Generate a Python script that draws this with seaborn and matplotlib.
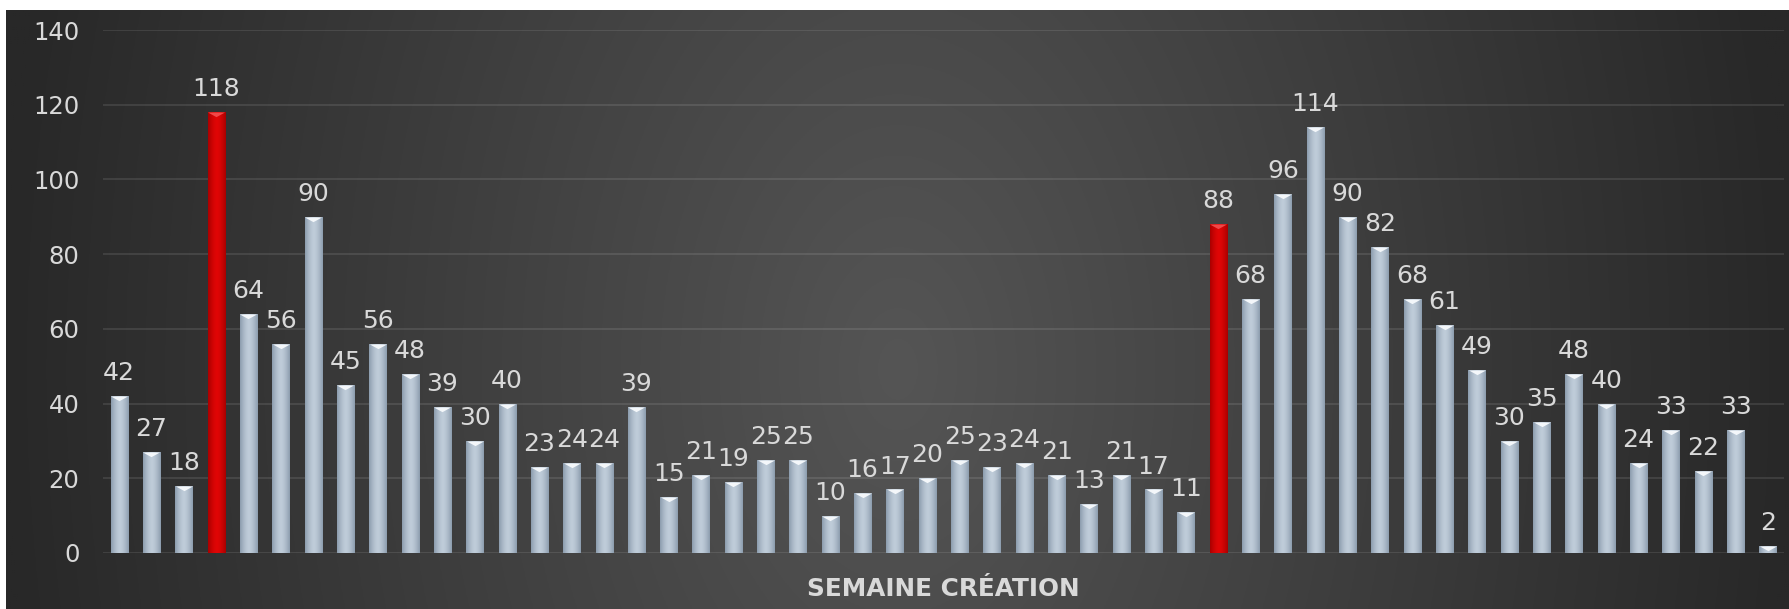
import numpy as np
import pandas as pd
import matplotlib
matplotlib.use("Agg")
import matplotlib.pyplot as plt
import seaborn as sns
from matplotlib.path import Path

# ---- data ----
weeks = [f"S{i + 1}" for i in range(52)]
values = [42, 27, 18, 118, 64, 56, 90, 45, 56, 48, 39, 30, 40, 23, 24, 24, 39,
          15, 21, 19, 25, 25, 10, 16, 17, 20, 25, 23, 24, 21, 13, 21, 17, 11,
          88, 68, 96, 114, 90, 82, 68, 61, 49, 30, 35, 48, 40, 24, 33, 22, 33, 2]
highlighted = ["S4", "S35"]
x_title = "SEMAINE CRÉATION"
y_ticks = [0, 20, 40, 60, 80, 100, 120, 140]

df = pd.DataFrame({"week": weeks, "value": values})
df["kind"] = np.where(df["week"].isin(highlighted), "red", "normal")

sns.set_theme(style="white")
plt.rcParams["font.family"] = ["DejaVu Sans"]

W, H = 1790, 609
fig = plt.figure(figsize=(W / 100, H / 100), dpi=100, facecolor="white")

# ---- background radial gradient ----
bg = fig.add_axes([6 / W, 0, 1 - 6 / W, (H - 10) / H], zorder=-5)
ny, nx = 300, 900
yy, xx = np.mgrid[0:1:ny * 1j, 0:1:nx * 1j]
d = np.sqrt(((xx - 0.5) / 0.5) ** 2 + ((yy - 0.6) / 2.3) ** 2)
d = np.clip(d, 0, 1)
c = (0x55 - d * (0x55 - 0x28)) / 255.0
bg.imshow(np.dstack([c, c, c]), aspect="auto", extent=[0, 1, 0, 1], origin="upper")
bg.set_axis_off()

# ---- main axes ----
ax = fig.add_axes([103 / W, 1 - 553 / H, (1784 - 103) / W, (553 - 30) / H])
ax.patch.set_alpha(0)

palette = {"normal": "#a9b8c8", "red": "#d00000"}
sns.barplot(data=df, x="week", y="value", hue="kind", palette=palette,
            dodge=False, width=0.53, legend=False, ax=ax, saturation=1,
            order=weeks, linewidth=0, edgecolor="none")

grad_cols = {
    "normal": (np.array([0x8c, 0x9c, 0xad]), np.array([0xbf, 0xcc, 0xd9])),
    "red": (np.array([0xa8, 0x00, 0x00]), np.array([0xe0, 0x06, 0x06])),
}
tri_cols = {"normal": "#f4f7fa", "red": "#f04848"}

t = np.linspace(-1, 1, 64)
prof = 1 - np.abs(t) ** 1.6

for p in list(ax.patches):
    h = p.get_height()
    if not np.isfinite(h) or h <= 0:
        continue
    p.set_linewidth(0)
    x0 = p.get_x()
    w = p.get_width()
    fc = p.get_facecolor()
    kind = "red" if fc[0] > 0.7 and fc[1] < 0.3 else "normal"
    lo, hi = grad_cols[kind]
    img = (lo[None, :] + prof[:, None] * (hi - lo)[None, :]) / 255.0
    img = img[None, :, :]
    im = ax.imshow(img, extent=[x0, x0 + w, 0, h], aspect="auto",
                   zorder=p.get_zorder() + 0.1, interpolation="bilinear")
    im.set_clip_path(p)

# bevel triangles on bar tops
tri = Path([(-1, 0), (1, 0), (0, -0.55), (-1, 0)],
           [Path.MOVETO, Path.LINETO, Path.LINETO, Path.CLOSEPOLY])
for i, (v, k) in enumerate(zip(df["value"], df["kind"])):
    ax.plot([i], [v], marker=tri, markersize=12.2, color=tri_cols[k],
            markeredgewidth=0, linestyle="none", zorder=5)
    ax.annotate(str(v), (i, v), xytext=(0, 11.5), textcoords="offset points",
                ha="center", va="baseline", color="#d9d9d9", fontsize=18,
                zorder=6)

ax.set_xlim(-0.5, len(weeks) - 0.5)
ax.set_ylim(0, 140)
ax.set_yticks(y_ticks)
ax.set_yticklabels([str(v) for v in y_ticks])
ax.tick_params(axis="y", colors="#d9d9d9", labelsize=17.5, pad=17, length=0)
ax.set_xticks([])
ax.set_xlabel("")
ax.set_ylabel("")
ax.set_axisbelow(True)
ax.yaxis.grid(True, color="white", alpha=0.1, linewidth=1.4, zorder=0)
for s in ax.spines.values():
    s.set_visible(False)

fig.text(943 / W, 1 - 589 / H, x_title, ha="center", va="center",
         fontsize=17.8, fontweight="bold", color="#d9d9d9")

fig.savefig("out.png", dpi=100, facecolor="white")
